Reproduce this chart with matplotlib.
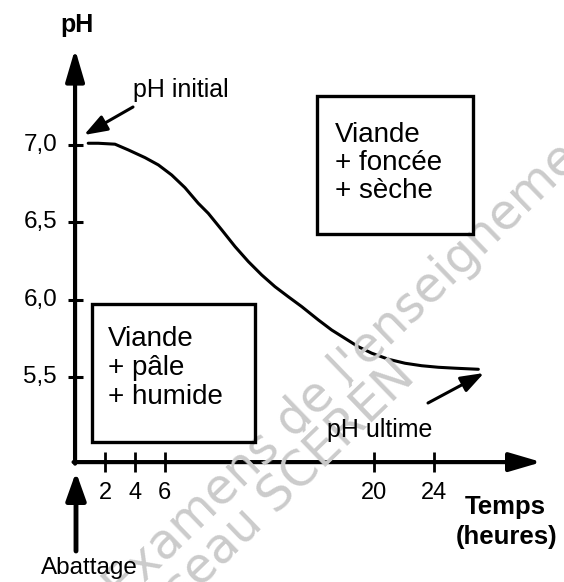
import matplotlib.pyplot as plt
from matplotlib.patches import Rectangle

plt.rcParams['font.family'] = ['Liberation Sans', 'DejaVu Sans']

temps = [0.88, 1.55, 2.67, 3.56, 4.68, 5.57, 6.46, 7.35, 8.24, 8.91, 9.81,
         10.70, 11.59, 12.48, 13.37, 14.26, 15.16, 16.27, 17.16, 18.05,
         18.94, 19.84, 20.95, 22.07, 23.18, 24.29, 25.41, 26.97]
ph = [7.011, 7.011, 7.005, 6.968, 6.918, 6.871, 6.806, 6.724, 6.623, 6.558,
      6.451, 6.343, 6.246, 6.160, 6.084, 6.019, 5.955, 5.869, 5.804, 5.750,
      5.696, 5.654, 5.615, 5.589, 5.573, 5.563, 5.557, 5.550]

ph_ticks = [7.0, 6.5, 6.0, 5.5]
ph_labels = ['7,0', '6,5', '6,0', '5,5']
t_ticks = [2, 4, 6, 20, 24]

W, H = 564, 582


def fx(x):
    return x / W


def fy(y):
    return 1 - y / H


fig = plt.figure(figsize=(W / 100, H / 100), dpi=100)
ax = fig.add_axes([0, 0, 1, 1])
ax.set_xlim(-5.02, 32.70)
ax.set_ylim(4.175, 7.937)
ax.axis('off')

# filigrane
wm = dict(color='#cbcbcb', fontsize=35, family='DejaVu Sans', rotation=44,
          rotation_mode='anchor', ha='center', va='center', zorder=0)
fig.text(fx(360), fy(356), "Examens de l'enseignement", **wm)
fig.text(fx(272), fy(500), "réseau SCÉRÉN", **wm)

y0 = 4.95
arr = dict(arrowstyle='-|>,head_length=0.75,head_width=0.22', lw=3,
           color='black', mutation_scale=26, shrinkA=0, shrinkB=0)
ax.annotate('', xy=(31.2, y0), xytext=(-0.1, y0), arrowprops=arr)
ax.annotate('', xy=(0, 7.62), xytext=(0, y0 - 0.01), arrowprops=arr)

ax.hlines(ph_ticks, -0.45, 0.5, lw=2.2, color='black')
ax.vlines(t_ticks, 4.886, 5.015, lw=2, color='black')
for v, lab in zip(ph_ticks, ph_labels):
    ax.text(-1.2, v, lab, ha='right', va='center', fontsize=17.5)
for t in t_ticks:
    ax.text(t, 4.82, str(t), ha='center', va='top', fontsize=17)

ax.plot(temps, ph, color='black', lw=2.2, solid_capstyle='round')

# textes
fig.text(fx(77), fy(25), 'pH', ha='center', va='center', fontsize=18,
         fontweight='bold')
fig.text(fx(133), fy(90), 'pH initial', ha='left', va='center', fontsize=18)
fig.text(fx(327), fy(430), 'pH ultime', ha='left', va='center', fontsize=18)
fig.text(fx(505), fy(507), 'Temps', ha='center', va='center', fontsize=18.5,
         fontweight='bold')
fig.text(fx(507), fy(537), '(heures)', ha='center', va='center', fontsize=18.5,
         fontweight='bold')
fig.text(fx(89), fy(568), 'Abattage', ha='center', va='center', fontsize=17.5)

ann = dict(arrowstyle='-|>,head_length=0.7,head_width=0.25', lw=2.2,
           color='black', mutation_scale=20, shrinkA=0, shrinkB=0)
fig.add_artist(plt.Annotation('', xy=(fx(84), fy(135)), xytext=(fx(133), fy(107)),
                              xycoords='figure fraction', arrowprops=ann))
fig.add_artist(plt.Annotation('', xy=(fx(484), fy(373)), xytext=(fx(428), fy(403)),
                              xycoords='figure fraction', arrowprops=ann))
ann2 = dict(ann, lw=3.5, mutation_scale=24)
fig.add_artist(plt.Annotation('', xy=(fx(76), fy(472)), xytext=(fx(76), fy(551)),
                              xycoords='figure fraction', arrowprops=ann2))

# cadres
for x1, y1, x2, y2 in [(92, 304, 255, 442), (317, 96, 473, 234)]:
    fig.add_artist(Rectangle((fx(x1), fy(y2)), (x2 - x1) / W, (y2 - y1) / H,
                             transform=fig.transFigure, fill=False, lw=2.4,
                             edgecolor='black'))
fig.text(fx(108), fy(368), 'Viande\n+ pâle\n+ humide', ha='left', va='center',
         fontsize=20, linespacing=1.15)
fig.text(fx(335), fy(163), 'Viande\n+ foncée\n+ sèche', ha='left', va='center',
         fontsize=20, linespacing=1.08)

plt.savefig('out.png', dpi=100)
